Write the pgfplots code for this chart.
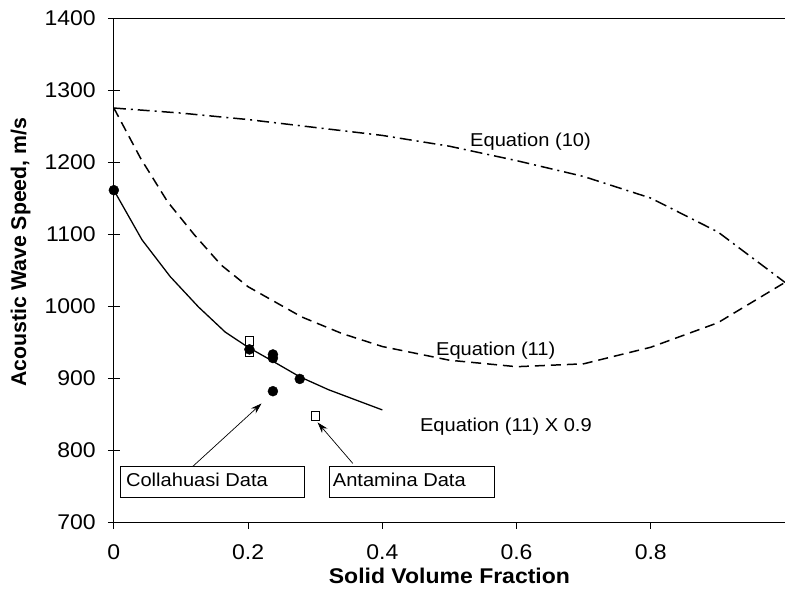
\documentclass[border=0pt]{standalone}
\usepackage{fontspec}
\setmainfont{Liberation Sans}[FakeStretch=1.08]
\newfontfamily\plainsans{Liberation Sans}
\usepackage{pgfplots}
\pgfplotsset{compat=1.18}
\usetikzlibrary{arrows.meta}

% speeds, m/s
\pgfplotstableread{
x y
0 1275
0.1 1268
0.2 1259
0.3 1248
0.4 1237
0.5 1222
0.6 1202
0.7 1180
0.8 1150
0.9 1103
1.0 1033
}\eqten
\pgfplotstableread{
x y
0 1275
0.04 1205
0.08 1145
0.12 1099
0.16 1057
0.2 1027
0.24 1006
0.28 985
0.34 962
0.4 944
0.5 925
0.6 916
0.7 920
0.8 943
0.9 977
1.0 1033
}\eqeleven
\pgfplotstableread{
x y
0 1161
0.042 1092
0.084 1041
0.126 999
0.166 964
0.2 943
0.238 923
0.277 902
0.32 884
0.36 870
0.4 856
}\eqelevenb

\begin{document}
\begin{tikzpicture}[font=\fontsize{18.7}{22}\selectfont]
\begin{axis}[
  name=ax,
  scale only axis,
  width=672bp, height=505bp,
  xmin=0, xmax=1, ymin=700, ymax=1400,
  axis x line=bottom, axis y line=left,
  x axis line style={-}, y axis line style={-},
  axis line style={line width=0.8pt},
  xtick={0,0.2,0.4,0.6,0.8},
  ytick={700,800,...,1400},
  xtick align=inside, ytick align=inside,
  major tick length=0pt,
  tick style={draw=none},
  /pgf/number format/assume math mode=true,
  /pgf/number format/1000 sep={},
  ticklabel style={font=\fontsize{21.4}{25}\selectfont, inner sep=0pt},
  xticklabel style={anchor=base, yshift=-37bp},
  yticklabel style={anchor=east, xshift=-18bp},
  clip=false,
]
\addplot[black, line width=1.5pt, dash pattern=on 12bp off 5bp on 2bp off 5bp] table {\eqten};
\addplot[black, line width=1.5pt, dash pattern=on 10bp off 6bp] table {\eqeleven};
\addplot[black, line width=1.3pt] table {\eqelevenb};
% Antamina / Collahuasi data
\addplot[only marks, mark=square*, mark size=4.2bp, mark options={fill=white, draw=black, line width=0.6pt}] coordinates {
  (0.202,952) (0.202,936) (0.3,848)
};
\addplot[only marks, mark=*, mark size=5bp, black] coordinates {
  (0,1161) (0.202,940) (0.237,933) (0.237,928) (0.277,899) (0.237,882)
};
\draw[line width=0.8pt] (rel axis cs:0,1) -- (rel axis cs:1,1);
\node[anchor=base east] at (axis cs:0.716,1222) {Equation (10)};
\node[anchor=base west] at (axis cs:0.475,932) {Equation (11)};
\node[anchor=base west] at (axis cs:0.451,826) {Equation (11) X 0.9};
\draw[line width=0.6pt, fill=white] (axis cs:0.009,777.6) rectangle (axis cs:0.284,734.6);
\node[anchor=base west, inner sep=0pt] at (axis cs:0.0179,750.3) {Collahuasi Data};
\draw[line width=0.6pt, fill=white] (axis cs:0.321,777.6) rectangle (axis cs:0.567,734.6);
\node[anchor=base west, inner sep=0pt] at (axis cs:0.326,750.3) {Antamina Data};
\draw[line width=0.7pt, -{Stealth[length=11bp,width=7bp]}] (axis cs:0.1176,777.6) -- (axis cs:0.220,864.9);
\draw[line width=0.7pt, -{Stealth[length=11bp,width=7bp]}] (axis cs:0.356,781.8) -- (axis cs:0.3036,838.6);
\end{axis}
% tick marks: y ticks cross the axis, x ticks point outwards
\foreach \i in {0,...,7}
  \draw[line width=0.8pt] ([yshift=\i*72.1429bp]ax.south west) ++(-6bp,0) -- ++(12bp,0);
\foreach \i in {0,...,4}
  \draw[line width=0.8pt] ([xshift=\i*134.4bp]ax.south west) -- ++(0,-6.5bp);
% axis titles
\node[font=\fontsize{21.4}{25}\selectfont\bfseries] at ([yshift=-54bp]ax.south) {Solid Volume Fraction};
\node[rotate=90, font=\plainsans\fontsize{21.4}{25}\selectfont\bfseries] at ([xshift=-93.3bp,yshift=18bp]ax.west) {Acoustic Wave Speed, m/s};
\pgfresetboundingbox
\path[use as bounding box] ([xshift=-114bp,yshift=-67bp]ax.south west) rectangle ([yshift=18bp]ax.north east);
\end{tikzpicture}
\end{document}
